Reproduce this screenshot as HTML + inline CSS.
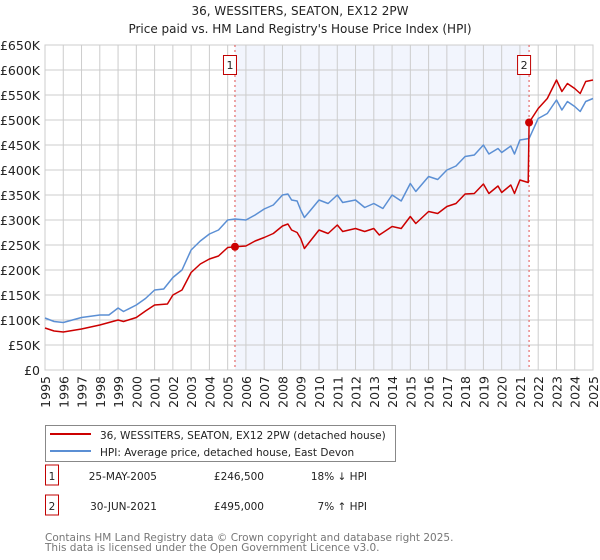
<!DOCTYPE html>
<html><head><meta charset="utf-8"><style>
body{margin:0;width:600px;height:560px;background:#fff;font-family:"DejaVu Sans","Liberation Sans",sans-serif;overflow:hidden}
svg{position:absolute;left:0;top:0}
</style></head><body>
<svg id="c" width="600" height="560"></svg>
<script>
const hpiYears=[1995,1995.5,1996,1997,1998,1998.5,1999,1999.3,2000,2000.5,2001,2001.5,2002,2002.5,2003,2003.5,2004,2004.5,2005,2005.4,2006,2006.5,2007,2007.5,2008,2008.3,2008.5,2008.8,2009,2009.2,2009.5,2010,2010.5,2011,2011.3,2012,2012.5,2013,2013.5,2014,2014.5,2015,2015.3,2016,2016.5,2017,2017.5,2018,2018.5,2019,2019.3,2019.8,2020,2020.5,2020.7,2021,2021.5,2022,2022.5,2023,2023.3,2023.6,2024,2024.3,2024.6,2025];
const hpiValues=[104,97,95,105,110,110,124,117,130,143,160,162,185,200,240,258,272,280,300,302,300,310,322,330,350,352,340,338,320,305,318,340,333,350,335,340,325,333,323,350,338,373,357,387,381,400,408,427,430,450,432,443,435,448,432,460,463,503,513,540,520,537,527,517,537,543];
const priceYears=[1995,1995.5,1996,1997,1998,1999,1999.3,2000,2000.5,2001,2001.7,2002,2002.5,2003,2003.5,2004,2004.5,2005,2005.4,2006,2006.5,2007,2007.5,2008,2008.3,2008.5,2008.8,2009,2009.2,2010,2010.5,2011,2011.3,2012,2012.5,2013,2013.3,2014,2014.5,2015,2015.3,2016,2016.5,2017,2017.5,2018,2018.5,2019,2019.3,2019.8,2020,2020.5,2020.7,2021,2021.45,2021.5,2022,2022.5,2023,2023.3,2023.6,2024,2024.3,2024.6,2025];
const priceValues=[84,78,76,82,90,100,97,105,118,130,132,150,160,195,212,222,228,245,246.5,248,258,265,273,288,292,280,275,263,243,280,273,290,277,283,277,283,270,287,283,307,293,317,313,327,333,352,353,372,353,368,355,370,353,380,375,495,523,543,580,557,573,563,553,577,580];
const saleYears=[2005.4,2021.5];
const saleValues=[246.5,495];
const saleLabels=["1","2"];
const yTicks=[0,50,100,150,200,250,300,350,400,450,500,550,600,650];
const xTicks=[1995,1996,1997,1998,1999,2000,2001,2002,2003,2004,2005,2006,2007,2008,2009,2010,2011,2012,2013,2014,2015,2016,2017,2018,2019,2020,2021,2022,2023,2024,2025];

const L=45,R=593,T=45,B=370;
const sx=y=>L+(y-1995)/30*(R-L);
const sy=v=>B-v/650*(B-T);
const svg=document.getElementById('c');
const NS='http://www.w3.org/2000/svg';
function mk(tag,attrs,parent){const e=document.createElementNS(NS,tag);for(const k in attrs)e.setAttribute(k,attrs[k]);(parent||svg).appendChild(e);return e;}
function txt(s,attrs,name){const e=mk('text',attrs);e.textContent=s;


return e;}

txt('36, WESSITERS, SEATON, EX12 2PW',{x:300,y:15,'text-anchor':'middle','font-size':12,fill:'#222'},'chart-title');
txt("Price paid vs. HM Land Registry's House Price Index (HPI)",{x:300,y:33,'text-anchor':'middle','font-size':12,fill:'#222'},'chart-subtitle');

const shade=mk('rect',{x:sx(saleYears[0]),y:T,width:sx(saleYears[1])-sx(saleYears[0]),height:B-T,fill:'#f2f5fd'});



yTicks.forEach(v=>{
 const g=mk('line',{x1:L,x2:R,y1:sy(v),y2:sy(v),stroke:'#cccccc','stroke-width':1});
 
 
 txt(v===0?'£0':'£'+v+'K',{x:40,y:sy(v)+5,'text-anchor':'end','font-size':12.5,fill:'#222'},'y-tick-label');
});
xTicks.forEach(y=>{
 const g=mk('line',{x1:sx(y),x2:sx(y),y1:T,y2:B,stroke:'#cccccc','stroke-width':1});
 
 
 txt(String(y),{x:0,y:0,'font-size':12.5,fill:'#222','text-anchor':'end',transform:`translate(${sx(y)+5},${B+6}) rotate(-90)`},'x-tick-label');
});
const ax=mk('rect',{x:L,y:T,width:R-L,height:B-T,fill:'none',stroke:'#cccccc'});



saleYears.forEach((y,i)=>{
 const l=mk('line',{x1:sx(y),x2:sx(y),y1:T,y2:B,stroke:'#e05050','stroke-width':1,'stroke-dasharray':'2,3'});
 
 
 const b=mk('rect',{x:sx(y)-11.5,y:55.5,width:13,height:19,fill:'#fff',stroke:'#c00000'});
 
 
 txt(saleLabels[i],{x:sx(y)-5,y:69,'text-anchor':'middle','font-size':11,fill:'#222'},'sale-marker-label');
});

function path(xs,vs,color,name){
 const d=xs.map((y,i)=>(i?'L':'M')+sx(y).toFixed(1)+','+sy(vs[i]).toFixed(1)).join('');
 const p=mk('path',{d:d,fill:'none',stroke:color,'stroke-width':1.5,'stroke-linejoin':'round'});
 
 
}
path(hpiYears,hpiValues,'#5b8fd4','hpi-line');
path(priceYears,priceValues,'#cc0000','price-paid-line');
saleYears.forEach((y,i)=>{
 const c=mk('circle',{cx:sx(y),cy:sy(saleValues[i]),r:4,fill:'#cc0000'});
 
 
});

const lg=mk('rect',{x:45.5,y:425.5,width:350,height:36,fill:'#fff',stroke:'#888'});


let l1=mk('line',{x1:50,x2:91,y1:434,y2:434,stroke:'#cc0000','stroke-width':2});


txt('36, WESSITERS, SEATON, EX12 2PW (detached house)',{x:100,y:439,'font-size':10.5,fill:'#222'},'legend-entry-price');
let l2=mk('line',{x1:50,x2:91,y1:451,y2:451,stroke:'#5b8fd4','stroke-width':2});


txt('HPI: Average price, detached house, East Devon',{x:100,y:456,'font-size':10.5,fill:'#222'},'legend-entry-hpi');

const rows=[["1","25-MAY-2005","£246,500","18% ↓ HPI",483],["2","30-JUN-2021","£495,000","7% ↑ HPI",513]];
rows.forEach(r=>{
 const b=mk('rect',{x:45.5,y:r[4]-18,width:13,height:20,fill:'#fff',stroke:'#c00000'});
 
 
 txt(r[0],{x:52,y:r[4]-3,'text-anchor':'middle','font-size':10.5,fill:'#222'},'table-marker-label');
 txt(r[1],{x:157,y:r[4]-3,'text-anchor':'end','font-size':10.5,fill:'#222'},'table-date');
 txt(r[2],{x:264,y:r[4]-3,'text-anchor':'end','font-size':10.5,fill:'#222'},'table-price');
 txt(r[3],{x:367,y:r[4]-3,'text-anchor':'end','font-size':10.5,fill:'#222'},'table-hpi-diff');
});
txt('Contains HM Land Registry data © Crown copyright and database right 2025.',{x:45,y:541,'font-size':10.5,fill:'#777'},'footer-copyright');
txt('This data is licensed under the Open Government Licence v3.0.',{x:45,y:551,'font-size':10.5,fill:'#777'},'footer-licence');
</script>
</body></html>
